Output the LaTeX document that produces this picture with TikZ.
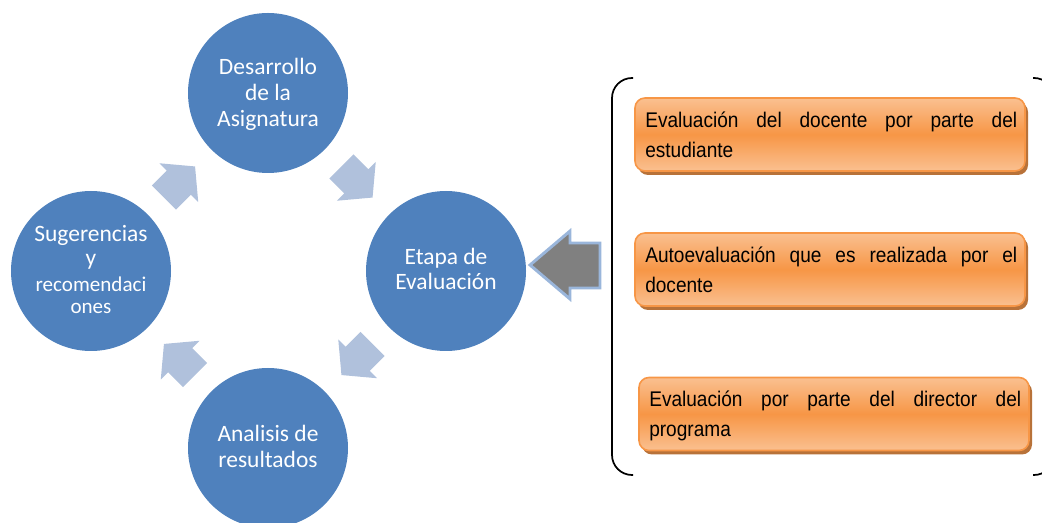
\documentclass[tikz,border=0pt]{standalone}
\usepackage{fontspec}
\setmainfont{Carlito}
\newfontfamily\boxfont[FakeStretch=0.9]{Liberation Sans}
\usetikzlibrary{calc}
\definecolor{cblue}{HTML}{4F81BD}
\definecolor{arrowc}{HTML}{B0C1DC}
\definecolor{garrow}{HTML}{808080}
\definecolor{garrowline}{HTML}{9AB6DB}
\definecolor{oline}{HTML}{F79646}
\definecolor{otop}{HTML}{FAC090}
\definecolor{omid}{HTML}{F79646}
\definecolor{oshadow}{HTML}{B87239}
\begin{document}
\begin{tikzpicture}[x=0.75pt,y=-0.75pt,
  circ/.style={circle, fill=cblue, draw=none, minimum size=120pt, inner sep=0pt},
  ctext/.style={text=white, font=\fontsize{17.6pt}{21pt}\selectfont, anchor=base, inner sep=0pt},
  csmall/.style={ctext, font=\fontsize{15.8pt}{19pt}\selectfont},
  obox/.style={rectangle, rounded corners=7.5pt, draw=oline, line width=1.2pt,
    top color=otop, bottom color=otop, middle color=omid,
    minimum width=292.5pt, minimum height=54.75pt, inner sep=0pt},
  oshadowbox/.style={rectangle, rounded corners=7.5pt, fill=oshadow, draw=none,
    minimum width=292.5pt, minimum height=54.75pt, inner sep=0pt},
  btext/.style={font=\boxfont\fontsize{15.9pt}{22.5pt}\selectfont, anchor=base west, inner sep=0pt, text=black},
  bracketline/.style={draw=black, line width=1.3pt, rounded corners=15pt},
  barrow/.pic={\fill[arrowc] (-22,-17) -- (-1,-17) -- (-1,-27.5) -- (22,0) -- (-1,27.5) -- (-1,17) -- (-22,17) -- cycle;}
]
\useasboundingbox (0,0) rectangle (1042,523);

% circles
\node[circ] (T) at (268,93) {};
\node[circ] (R) at (446,271) {};
\node[circ] (B) at (268,448) {};
\node[circ] (L) at (91,271) {};

% circle texts
\node[ctext] (t1) at (268,75) {Desarrollo};
\node[ctext] (t2) at (268,101) {de la};
\node[ctext] (t3) at (268,127) {Asignatura};
\node[ctext] (r1) at (446,265) {Etapa de};
\node[ctext] (r2) at (446,290) {Evaluación};
\node[ctext] (b1) at (268,442) {Analisis de};
\node[ctext] (b2) at (268,468) {resultados};
\node[ctext] (l1) at (91,242) {Sugerencias};
\node[ctext] (l2) at (91,266) {y};
\node[csmall] (l3) at (91,292) {recomendaci};
\node[csmall] (l4) at (91,314) {ones};

% cycle arrows
\pic[rotate=45] at ($(L)!0.5!(T)$) {barrow};
\pic[rotate=-45] at ($(T)!0.5!(R)$) {barrow};
\pic[rotate=-135] at ($(R)!0.5!(B)$) {barrow};
\pic[rotate=135] at ($(B)!0.5!(L)$) {barrow};

% gray arrow
\draw[fill=garrow, draw=garrowline, line width=2.2pt, line join=miter]
  (530,265) -- (570,231) -- (570,243) -- (600,243) -- (600,288) -- (570,288) -- (570,299) -- cycle;

% brackets
\draw[bracketline] (633,78) -- (612,78) -- (612,475) -- (633,475);
\draw[bracketline] (1033,78) -- (1054,78) -- (1054,475) -- (1033,475);

% boxes
\node[oshadowbox] (s1) at (833,138.5) {};
\node[obox] (o1) at (830,134.5) {};
\node[oshadowbox] (s2) at (833,273.5) {};
\node[obox] (o2) at (830,269.5) {};
\node[oshadowbox] (s3) at (837,418) {};
\node[obox] (o3) at (834,414) {};

\node[btext] (o1a) at (645,128) {\makebox[279pt][s]{Evaluación del docente por parte del}};
\node[btext] (o1b) at (645,158) {estudiante};
\node[btext] (o2a) at (645,263) {\makebox[279pt][s]{Autoevaluación que es realizada por el}};
\node[btext] (o2b) at (645,293) {docente};
\node[btext] (o3a) at (649,407) {\makebox[279pt][s]{Evaluación por parte del director del}};
\node[btext] (o3b) at (649,437) {programa};
\end{tikzpicture}
\end{document}
